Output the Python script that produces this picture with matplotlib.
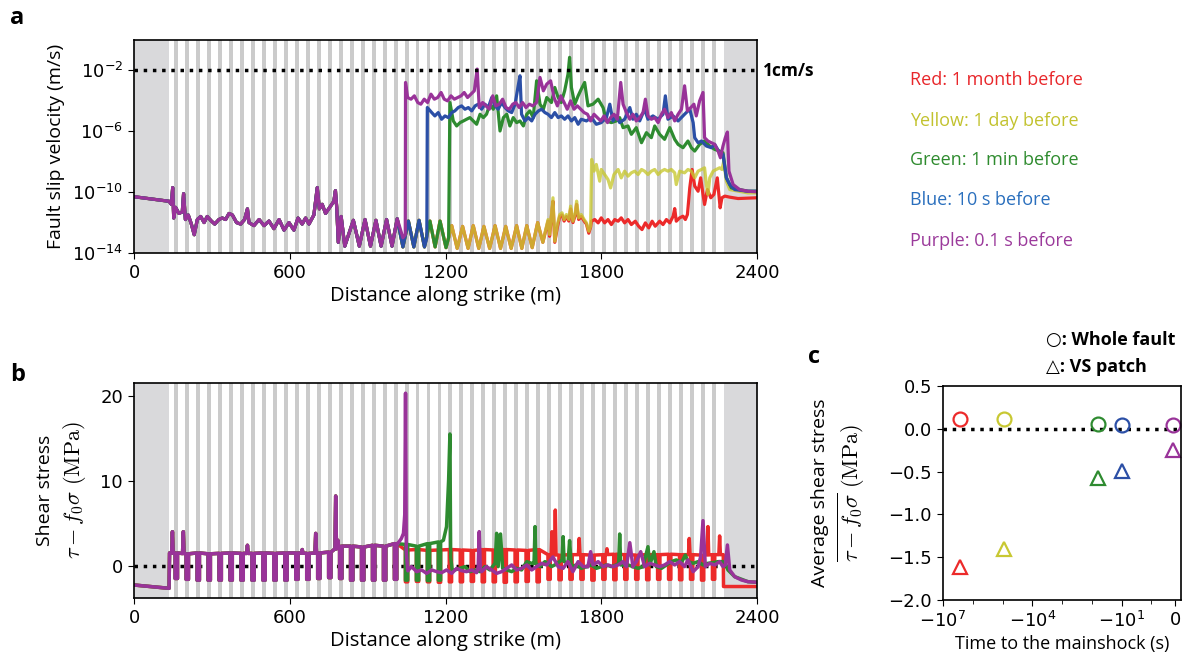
import matplotlib
matplotlib.use("Agg")
import matplotlib.pyplot as plt
import numpy as np
from matplotlib.ticker import FixedLocator, NullLocator

# ---- geometry of the fault model (positions only) ----
FAULT_L, FAULT_R = 135, 2271
STRIPE0, STRIPE_STEP, N_STRIPES, HW = 163, 42.24, 50, 7.5
TOOTH_HW = 4.5
stripe_c = [STRIPE0 + STRIPE_STEP * k for k in range(N_STRIPES)]

# ---- panel a: log10 slip velocity (m/s) ----
common_x = [0, 135, 144, 149, 153, 160, 173, 186, 191, 198, 209, 221, 232, 244, 257, 270, 282, 298,
            311, 327, 340, 353, 366, 379, 395, 411, 426, 437, 443, 462, 482, 501, 520, 539, 559, 578,
            597, 616, 632, 648, 661, 674, 693, 706, 714, 725, 738, 758, 770, 776, 781, 787, 798]
common_v = [-10.3, -10.6, -10.8, -9.7, -11.7, -11.0, -11.4, -11.3, -10.1, -11.8, -11.5, -12.1, -12.8,
            -11.8, -11.6, -12.0, -11.6, -11.9, -12.1, -11.8, -11.7, -11.8, -11.4, -11.5, -12.0, -12.1,
            -11.8, -11.1, -12.0, -12.2, -11.8, -12.2, -11.9, -12.4, -11.8, -12.5, -12.0, -12.5, -11.7,
            -12.1, -11.7, -12.1, -11.5, -9.7, -11.1, -10.8, -11.4, -10.9, -10.6, -9.9, -11.0, -13.3, -11.6]

osc_x = [812, 845, 868, 890, 911, 932, 952, 973, 994, 1014, 1036, 1057, 1078, 1098, 1119, 1140, 1160,
         1179, 1202, 1224, 1245, 1266, 1287, 1307, 1328, 1348, 1370, 1391, 1412, 1432, 1453, 1474,
         1494, 1513, 1534, 1555, 1575]
osc_v = [-13.55, -11.85, -13.55, -11.8, -13.55, -11.85, -13.55, -11.8, -13.55, -11.75, -13.6, -11.9,
         -13.6, -11.85, -13.6, -11.9, -13.6, -11.9, -13.65, -12.2, -13.7, -12.25, -13.7, -12.2, -13.7,
         -12.25, -13.7, -12.2, -13.7, -12.25, -13.7, -12.2, -13.7, -12.2, -13.65, -12.0, -13.3]

yel_lo_x = [1595, 1601, 1608, 1614, 1621, 1631, 1640, 1649, 1657, 1666, 1675, 1682, 1691, 1700, 1705,
            1713, 1723, 1734, 1743, 1752, 1759]
yel_lo_v = [-11.8, -12.79, -11.47, -10.37, -13.23, -12.13, -11.47, -11.36, -11.8, -11.47, -11.8, -10.92,
            -11.91, -11.36, -10.59, -11.69, -11.47, -11.8, -12.02, -12.57, -12.24]
red_lo_v = [-11.9, -12.9, -11.6, -10.6, -13.3, -12.3, -11.6, -11.5, -11.9, -11.6, -11.9, -11.1, -12.0,
            -11.5, -10.8, -11.8, -11.6, -11.9, -12.1, -12.7, -12.3]

red_hi_x = [1762, 1775, 1788, 1800, 1813, 1826, 1839, 1852, 1865, 1877, 1890, 1903, 1916, 1931, 1944,
            1957, 1970, 1983, 1996, 2008, 2025, 2038, 2051, 2064, 2077, 2083, 2089, 2102, 2115, 2124,
            2132, 2141, 2150, 2160, 2173, 2183, 2192, 2198, 2209, 2222, 2234, 2247, 2258, 2265, 2276,
            2295, 2327, 2400]
red_hi_v = [-11.91, -11.8, -12.02, -11.69, -12.02, -11.8, -12.13, -11.8, -11.91, -11.69, -12.02, -11.8,
            -12.13, -11.91, -12.24, -12.46, -12.02, -12.35, -11.91, -12.24, -11.91, -12.13, -11.8,
            -12.02, -11.58, -11.08, -11.91, -11.69, -11.58, -11.8, -11.47, -9.71, -8.51, -9.6, -9.94,
            -9.06, -10.15, -10.81, -9.83, -10.37, -10.15, -9.06, -11.03, -10.37, -10.26, -10.33,
            -10.42, -10.37]

yel_hi_x = [1763, 1772, 1781, 1794, 1800, 1813, 1826, 1836, 1849, 1865, 1877, 1890, 1903, 1916, 1929,
            1942, 1955, 1967, 1980, 1993, 2006, 2019, 2032, 2044, 2057, 2070, 2083, 2089, 2102, 2121,
            2134, 2147, 2160, 2173, 2186, 2198, 2205, 2211, 2218, 2231, 2243, 2256, 2265, 2272, 2282,
            2295, 2365, 2400]
yel_hi_v = [-7.85, -8.62, -8.18, -9.28, -8.51, -8.84, -9.17, -9.72, -8.84, -8.51, -9.06, -8.62, -8.95,
            -8.73, -8.62, -8.84, -8.51, -8.62, -8.84, -8.62, -8.51, -8.84, -8.62, -8.51, -8.62, -8.51,
            -8.73, -9.5, -8.62, -8.73, -8.51, -8.62, -9.06, -8.62, -8.51, -8.4, -9.5, -10.15, -9.06,
            -8.62, -8.51, -8.4, -8.51, -7.96, -9.28, -9.83, -10.05, -10.05]

grn_hi_x = [1217, 1230, 1243, 1256, 1269, 1281, 1294, 1307, 1320, 1333, 1346, 1358, 1371, 1384, 1397,
            1410, 1423, 1436, 1448, 1461, 1474, 1487, 1500, 1513, 1525, 1538, 1551, 1564, 1577, 1590,
            1608, 1621, 1634, 1646, 1659, 1672, 1678, 1685, 1698, 1711, 1723, 1736, 1749, 1768, 1788,
            1807, 1820, 1839, 1858, 1871, 1884, 1903, 1916, 1935, 1955, 1974, 1993, 2006, 2025, 2044,
            2064, 2083, 2096, 2115, 2134, 2147, 2160, 2179, 2198, 2218, 2237, 2256, 2269, 2282, 2301,
            2365, 2400]
grn_hi_v = [-4.11, -5.32, -5.65, -5.43, -5.32, -5.21, -5.1, -5.32, -5.54, -4.88, -5.1, -4.88, -4.22,
            -4.55, -3.67, -5.98, -5.1, -4.88, -5.65, -5.1, -5.43, -5.32, -5.65, -4.88, -4.66, -5.1,
            -2.68, -4.22, -4.55, -3.78, -4.11, -3.12, -3.78, -4.11, -3.34, -2.24, -1.14, -3.12, -4.22,
            -3.67, -3.23, -2.79, -4.33, -4.22, -3.89, -4.44, -5.32, -5.43, -5.32, -5.1, -5.76, -5.65,
            -6.2, -5.76, -6.75, -6.09, -6.42, -5.65, -6.2, -6.53, -5.76, -6.53, -6.86, -7.08, -6.64,
            -7.08, -7.3, -6.86, -6.64, -6.97, -7.19, -7.3, -7.41, -9.06, -9.72, -9.94, -9.94]

blu_hi_x = [1130, 1147, 1159, 1172, 1185, 1198, 1211, 1224, 1236, 1249, 1262, 1275, 1288, 1301, 1314,
            1326, 1339, 1352, 1365, 1378, 1391, 1403, 1416, 1429, 1442, 1455, 1468, 1480, 1487, 1493,
            1506, 1519, 1532, 1545, 1558, 1570, 1583, 1595, 1608, 1621, 1634, 1646, 1659, 1672, 1685,
            1698, 1711, 1723, 1743, 1762, 1781, 1800, 1820, 1833, 1845, 1858, 1871, 1890, 1910, 1922,
            1935, 1948, 1967, 1980, 1999, 2019, 2038, 2047, 2057, 2077, 2096, 2121, 2141, 2154, 2160,
            2173, 2186, 2205, 2224, 2237, 2256, 2269, 2282, 2295, 2314, 2365, 2400]
blu_hi_v = [-4.44, -4.77, -4.99, -4.77, -5.21, -4.99, -5.1, -4.77, -4.66, -4.44, -4.33, -4.55, -4.44,
            -4.66, -4.33, -4.22, -4.55, -4.22, -4.44, -3.78, -4.33, -4.55, -4.11, -4.44, -4.66, -4.77,
            -4.22, -3.01, -2.35, -4.88, -5.32, -5.1, -5.32, -4.88, -4.66, -4.55, -4.77, -4.88, -5.1,
            -4.77, -5.1, -4.99, -5.21, -4.99, -5.32, -5.1, -5.54, -5.21, -5.32, -5.1, -5.54, -5.43,
            -5.1, -4.22, -5.32, -4.99, -5.43, -5.21, -4.44, -5.21, -4.88, -5.32, -4.55, -5.21, -4.99,
            -5.21, -4.88, -3.67, -5.21, -4.99, -5.32, -4.88, -4.55, -5.43, -6.42, -6.75, -6.64, -6.97,
            -7.08, -6.86, -7.41, -7.52, -9.06, -9.5, -9.83, -9.94, -9.94]

pur_hi_x = [1046, 1054, 1067, 1080, 1093, 1105, 1118, 1131, 1144, 1157, 1170, 1183, 1195, 1208, 1221,
            1234, 1247, 1260, 1272, 1285, 1298, 1311, 1322, 1330, 1343, 1356, 1369, 1382, 1394, 1407,
            1420, 1433, 1446, 1459, 1471, 1484, 1497, 1510, 1523, 1536, 1551, 1564, 1577, 1590, 1605,
            1618, 1631, 1644, 1657, 1669, 1682, 1695, 1708, 1721, 1734, 1747, 1759, 1772, 1785, 1798,
            1811, 1824, 1836, 1849, 1862, 1875, 1884, 1897, 1910, 1922, 1935, 1948, 1961, 1970, 1980,
            1993, 2006, 2019, 2032, 2044, 2057, 2070, 2083, 2096, 2109, 2121, 2132, 2145, 2157, 2166,
            2179, 2192, 2198, 2211, 2224, 2237, 2250, 2259, 2269, 2278, 2286, 2292, 2308, 2333, 2365,
            2400]
pur_hi_v = [-2.79, -3.78, -3.89, -3.67, -4.11, -4.22, -3.89, -4.11, -3.56, -3.89, -3.78, -3.45, -3.89,
            -4.0, -3.67, -3.89, -3.78, -3.67, -3.45, -3.78, -3.56, -3.34, -1.91, -4.44, -4.11, -4.33,
            -4.55, -3.67, -4.33, -4.22, -3.89, -4.44, -4.55, -4.22, -4.11, -4.44, -4.11, -4.44, -4.22,
            -4.33, -4.11, -2.46, -3.34, -2.9, -2.68, -3.78, -4.33, -3.67, -4.11, -4.55, -4.0, -4.55,
            -4.33, -4.55, -4.77, -4.88, -5.32, -4.88, -5.1, -5.32, -4.99, -5.43, -5.1, -4.88, -5.21,
            -2.79, -4.22, -4.77, -5.21, -4.88, -5.32, -5.1, -4.77, -3.89, -4.99, -5.21, -5.1, -5.43,
            -4.88, -4.55, -5.1, -4.77, -5.32, -4.88, -4.55, -3.01, -4.66, -4.44, -4.22, -4.99, -4.0,
            -3.45, -6.42, -6.64, -6.75, -6.86, -7.3, -7.74, -6.97, -6.42, -6.05, -8.62, -9.5, -9.83,
            -9.94, -9.98]

# ---- panel b: shear stress tau - f0*sigma (MPa) ----
pre_b_x = [0, 135, 137]
pre_b_v = [-2.27, -2.66, 1.5]
# level between patches / inside VS patch, patches 0..20
pb_tops = [1.5, 1.4, 1.5, 1.4, 1.45, 1.5, 1.45, 1.45, 1.5, 1.45, 1.5, 1.5, 1.45, 1.5, 1.6, 2.3, 2.3,
           2.2, 2.4, 2.3, 2.6]
pb_bots = [-1.5, -1.6, -1.7, -1.7, -1.7, -1.7, -1.7, -1.7, -1.7, -1.7, -1.7, -1.6, -1.6, -1.5, -1.4,
           -1.5, -1.7, -1.7, -1.7, -1.7, -1.6]
pb_spikes_x = [148, 190, 437, 648, 700, 777, 785]
pb_spikes_v = [4.0, 4.0, 2.4, 1.9, 3.8, 8.2, 3.0]

pur_b_x = [1016, 1030, 1038, 1043, 1046, 1049, 1055, 1069, 1089, 1108, 1127, 1147, 1166, 1185, 1204,
           1224, 1243, 1262, 1281, 1301, 1320, 1326, 1330, 1334, 1339, 1358, 1378, 1397, 1416, 1436,
           1455, 1474, 1493, 1513, 1532, 1551, 1570, 1590, 1614, 1634, 1653, 1672, 1691, 1711, 1730,
           1749, 1759, 1768, 1788, 1807, 1826, 1845, 1865, 1884, 1897, 1910, 1922, 1935, 1952, 1967,
           1987, 2006, 2025, 2044, 2064, 2083, 2102, 2121, 2134, 2154, 2173, 2183, 2192, 2201, 2218,
           2237, 2256, 2269, 2278, 2286, 2295, 2314, 2340, 2365, 2400]
pur_b_v = [2.6, 3.2, 3.8, 6.0, 20.3, 1.5, -0.6, -0.11, -0.7, -0.5, -0.9, -0.5, -0.7, -0.82, -0.5, -0.9,
           -0.31, -0.58, -0.7, -0.5, -0.82, -0.11, 4.01, -0.31, -0.7, -0.11, -0.5, -0.9, -0.7, -0.31,
           0.09, -0.5, -0.31, 0.09, -0.5, -0.11, 0.28, 0.09, 1.03, -0.11, -0.31, 0.48, -0.7, 0.48,
           -0.11, -0.11, 1.65, 0.09, 0.48, -0.11, 0.09, -0.11, 0.09, 0.48, -0.11, 2.71, -0.11, 0.48,
           1.65, -0.11, 0.28, 0.09, -0.11, 0.09, 0.48, 0.09, 0.48, -0.11, 0.68, -0.7, -0.11, 1.07, 5.3,
           -0.11, 0.28, 0.09, 0.48, -0.11, 0.09, 2.44, -0.5, -1.29, -1.68, -1.88, -1.95]

gb_tops = [2.5, 2.3, 2.6, 2.8]
gb_bots = [-1.7, -1.7, -1.75, -1.7]
grn_b_x = [1192, 1204, 1212, 1217, 1220, 1226, 1236, 1256, 1275, 1294, 1314, 1333, 1352, 1371, 1391,
           1397, 1403, 1412, 1420, 1436, 1455, 1474, 1493, 1513, 1532, 1541, 1545, 1548, 1564, 1583,
           1595, 1608, 1621, 1634, 1649, 1653, 1657, 1672, 1678, 1685, 1704, 1723, 1743, 1762, 1781,
           1800, 1820, 1839, 1858, 1867, 1871, 1875, 1903, 1922, 1942, 1961, 1980, 1987, 2003, 2012,
           2032, 2051, 2070, 2089, 2109, 2124, 2134, 2154, 2173, 2192, 2211, 2231, 2250, 2269, 2278,
           2288, 2314, 2365, 2400]
grn_b_v = [3.0, 4.6, 10.1, 15.5, 1.0, -0.6, -0.5, -0.31, -0.11, -0.7, -0.5, -0.7, -0.11, -0.5, 0.28,
           3.81, -0.11, 3.73, -0.31, -0.5, -0.7, -0.31, -0.5, 0.48, 0.28, 0.28, 4.6, 0.28, -0.11, 0.48,
           0.28, -0.11, 0.09, 0.36, 0.68, 3.42, 0.48, 0.28, 2.95, -0.11, 0.09, -0.31, -0.11, 0.09,
           -0.31, -0.11, 0.09, -0.11, 0.09, 0.28, 3.73, 0.09, 0.09, -0.11, -0.31, -0.11, 2.24, 0.09,
           1.65, -0.11, -0.31, 0.09, 0.48, 0.68, 0.36, 1.26, 0.48, 0.28, 0.48, 0.09, 0.28, 0.36, 0.48,
           0.48, 0.28, -0.5, -1.29, -1.88, -1.95]

rb_tops = [1.85, 1.9, 1.8, 1.85, 1.9, 1.85, 1.8, 1.9, 1.85, 1.9, 1.85, 1.8, 1.9,
           1.3, 1.25, 1.3, 1.3, 1.25, 1.3, 1.35, 1.3, 1.25, 1.3, 1.3, 1.35, 1.3, 1.3, 1.25, 1.3]
rb_bots = [-1.9, -1.85, -1.9, -1.95, -1.9, -1.9, -1.85, -1.9, -1.9, -1.95, -1.9, -1.85, -1.9,
           -1.6, -1.65, -1.6, -1.6, -1.7, -1.6, -1.65, -1.6, -1.6, -1.65, -1.6, -1.6, -1.65, -1.6,
           -1.7, -1.6]
red_end_x = [2270, 2271, 2400]
red_end_v = [1.3, -2.45, -2.45]
rb_spikes_x = [1610, 1623, 1715, 1822, 2139, 2211, 2256]
rb_spikes_v = [4.0, 6.55, 3.2, 2.0, 3.2, 4.6, 3.5]

# ---- panel c: averages vs time to mainshock ----
t_before = [-2.6e6, -8.64e4, -60, -10, -0.1]
avg_whole = [0.12, 0.11, 0.06, 0.05, 0.05]
avg_vs = [-1.61, -1.41, -0.58, -0.49, -0.25]

line_cols = ["#ec2a2a", "#c8c832", "#2e8b30", "#2b4fa6", "#993399"]
text_cols = ["#e8262a", "#c2c22e", "#2e8b2e", "#2a6fbd", "#9b3a9b"]
labels = ["Red: 1 month before", "Yellow: 1 day before", "Green: 1 min before",
          "Blue: 10 s before", "Purple: 0.1 s before"]

LABEL_FONT = ["Open Sans", "DejaVu Sans"]
plt.rcParams["font.size"] = 13
plt.rcParams["axes.linewidth"] = 1.2
plt.rcParams["xtick.major.size"] = 4.5
plt.rcParams["ytick.major.size"] = 4.5


def shade(ax):
    ax.axvspan(0, FAULT_L, color="#d9d9db", lw=0, zorder=0)
    ax.axvspan(FAULT_R, 2400, color="#d9d9db", lw=0, zorder=0)
    for s in stripe_c:
        ax.axvspan(s - HW, s + HW, color="#cbcbcb", lw=0, zorder=0)


def teeth(k0, tops, bots):
    xs, ys = [], []
    for i, (t, b) in enumerate(zip(tops, bots)):
        s = stripe_c[k0 + i]
        xs += [s - TOOTH_HW, s - TOOTH_HW, s + TOOTH_HW, s + TOOTH_HW]
        ys += [t, b, b, t]
    return xs, ys


def add_spikes(xs, ys, sx, sv):
    xs, ys = list(xs), list(ys)
    base = np.interp(sx, xs, ys)
    for x0, v0, b0 in zip(sx, sv, base):
        xs += [x0 - 3, x0, x0 + 3]
        ys += [b0, v0, b0]
    order = np.argsort(xs, kind="stable")
    return np.array(xs)[order], np.array(ys)[order]


def upto(xs, vs, xmax):
    keep = [(x, v) for x, v in zip(xs, vs) if x <= xmax]
    return [p[0] for p in keep], [p[1] for p in keep]


W, H = 1187, 660
fig = plt.figure(figsize=(W / 100, H / 100), dpi=100)
ax_a = fig.add_axes([134 / W, 1 - 253 / H, 623 / W, 213 / H])
ax_b = fig.add_axes([134 / W, 1 - 598 / H, 623 / W, 215 / H])
ax_c = fig.add_axes([943 / W, 1 - 600 / H, 238 / W, 214 / H])

# ---------- panel a ----------
shade(ax_a)
curves_a = [
    (common_x + osc_x + yel_lo_x + red_hi_x, common_v + osc_v + red_lo_v + red_hi_v),
    (common_x + osc_x + yel_lo_x + yel_hi_x, common_v + osc_v + yel_lo_v + yel_hi_v),
]
gx, gv = upto(osc_x, osc_v, 1202)
curves_a.append((common_x + gx + [1212] + grn_hi_x, common_v + gv + [-13.0] + grn_hi_v))
bx, bv = upto(osc_x, osc_v, 1119)
curves_a.append((common_x + bx + [1128] + blu_hi_x, common_v + bv + [-13.0] + blu_hi_v))
px, pv = upto(osc_x, osc_v, 1014)
curves_a.append((common_x + px + [1036, 1045] + pur_hi_x, common_v + pv + [-13.0, -12.8] + pur_hi_v))

# yellow is semi-transparent so it turns gold where it lies on the red curve
alphas = [1.0, 0.8, 1.0, 1.0, 1.0]
for (xs, vs), col, al in zip(curves_a, line_cols, alphas):
    ax_a.plot(xs, 10.0 ** np.array(vs), color=col, lw=2.3, alpha=al, zorder=2)

ax_a.axhline(1e-2, color="k", ls=":", lw=2.5, zorder=3)
ax_a.set_yscale("log")
ax_a.set_ylim(1e-14, 1)
ax_a.set_xlim(0, 2400)
ax_a.yaxis.set_major_locator(FixedLocator([1e-14, 1e-10, 1e-6, 1e-2]))
ax_a.yaxis.set_minor_locator(NullLocator())
ax_a.set_xticks([0, 600, 1200, 1800, 2400])
ax_a.set_ylabel("Fault slip velocity (m/s)", family=LABEL_FONT, fontsize=14, labelpad=5)
ax_a.set_xlabel("Distance along strike (m)", family=LABEL_FONT, fontsize=14.5, labelpad=3)

# ---------- panel b ----------
shade(ax_b)
tx, tv = teeth(0, pb_tops, pb_bots)
base_x, base_v = add_spikes(pre_b_x + tx, pre_b_v + tv, pb_spikes_x, pb_spikes_v)

rtx, rtv = teeth(21, rb_tops, rb_bots)
rx, rv = add_spikes(list(base_x) + rtx + red_end_x, list(base_v) + rtv + red_end_v,
                    rb_spikes_x, rb_spikes_v)
gtx, gtv = teeth(21, gb_tops, gb_bots)
gx_b = list(base_x) + gtx + grn_b_x
gv_b = list(base_v) + gtv + grn_b_v
px_b = list(base_x) + pur_b_x
pv_b = list(base_v) + pur_b_v

ax_b.axhline(0, color="k", ls=":", lw=2.5, zorder=1.5)
for (xs, vs), col in zip([(rx, rv), (gx_b, gv_b), (px_b, pv_b)],
                         [line_cols[0], line_cols[2], line_cols[4]]):
    ax_b.plot(xs, vs, color=col, lw=2.5, zorder=2)
ax_b.set_xlim(0, 2400)
ax_b.set_ylim(-3.8, 21.5)
ax_b.set_yticks([0, 10, 20])
ax_b.set_xticks([0, 600, 1200, 1800, 2400])
ax_b.set_xlabel("Distance along strike (m)", family=LABEL_FONT, fontsize=14.5, labelpad=3)
ax_b.text(-0.143, 0.5, "Shear stress", transform=ax_b.transAxes, rotation=90,
          ha="center", va="center", family=LABEL_FONT, fontsize=14)
ax_b.text(-0.095, 0.5, r"$\tau - f_0\sigma\ (\mathrm{MPa})$", transform=ax_b.transAxes,
          rotation=90, ha="center", va="center", fontsize=16, math_fontfamily="cm")

# ---------- panel c ----------
ax_c.axhline(0, color="k", ls=":", lw=2.5, zorder=1)
for t, w, v, col in zip(t_before, avg_whole, avg_vs, line_cols):
    ax_c.plot([t], [w], marker="o", ms=10, mfc="none", mec=col, mew=1.6, ls="none")
    ax_c.plot([t], [v], marker="^", ms=10, mfc="none", mec=col, mew=1.6, ls="none")
ax_c.set_xscale("symlog", linthresh=1, linscale=0.72)
ax_c.set_xlim(-1e7, 0.25)
ax_c.xaxis.set_major_locator(FixedLocator([-1e7, -1e4, -1e1, 0]))
ax_c.xaxis.set_minor_locator(FixedLocator([-1e6, -1e5, -1e3, -1e2, -1]))
ax_c.tick_params(axis="x", which="minor", length=3)
ax_c.set_ylim(-2.0, 0.5)
ax_c.set_yticks([-2.0, -1.5, -1.0, -0.5, 0.0, 0.5])
ax_c.set_xlabel("Time to the mainshock (s)", family=LABEL_FONT, fontsize=13, labelpad=3)
ax_c.text(-0.515, 0.5, "Average shear stress", transform=ax_c.transAxes, rotation=90,
          ha="center", va="center", family=LABEL_FONT, fontsize=14)
ax_c.text(-0.385, 0.5, r"$\overline{\tau - f_0\sigma}\ (\mathrm{MPa})$", transform=ax_c.transAxes,
          rotation=90, ha="center", va="center", fontsize=16, math_fontfamily="cm")

for ax in (ax_a, ax_b, ax_c):
    ax.tick_params(labelsize=13)

# ---------- annotations ----------
fig.text(763 / W, 1 - 71 / H, "1cm/s", fontweight="bold", va="center", family=LABEL_FONT,
         fontsize=12.5)
ys_leg = [80, 121, 160, 200, 241]
for y, lab, col in zip(ys_leg, labels, text_cols):
    fig.text(910 / W, 1 - y / H, lab, color=col, va="center", family=LABEL_FONT, fontsize=13)

fig.text(1046 / W, 1 - 340 / H, "○: Whole fault", fontweight="bold", va="center",
         family=LABEL_FONT, fontsize=13)
fig.text(1046 / W, 1 - 367 / H, "△: VS patch", fontweight="bold", va="center",
         family=LABEL_FONT, fontsize=13)

for lab, (x, y) in zip("abc", [(10, 18), (10, 375), (808, 357)]):
    fig.text(x / W, 1 - y / H, lab, fontweight="bold", va="center", family=LABEL_FONT,
             fontsize=17)

fig.savefig("out.png", dpi=100)
